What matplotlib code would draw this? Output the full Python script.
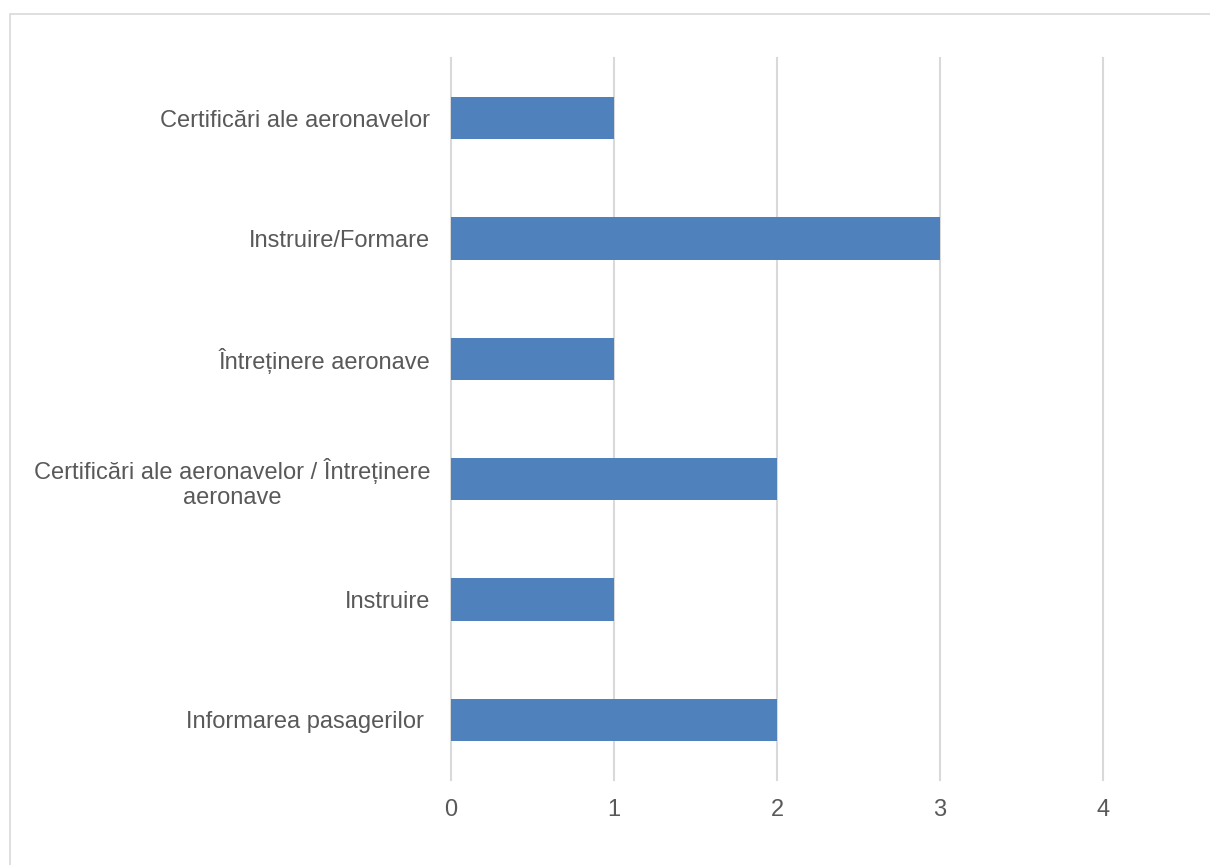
import matplotlib.pyplot as plt
from matplotlib.patches import Rectangle

plt.rcParams['font.family'] = ['Liberation Sans', 'DejaVu Sans']

categories = [
    "Certificări ale aeronavelor",
    "Instruire/Formare",
    "Întreținere aeronave",
    "Certificări ale aeronavelor / Întreținere\naeronave",
    "Instruire",
    "Informarea pasagerilor ",
]
values = [1, 3, 1, 2, 1, 2]
x_ticks = [0, 1, 2, 3, 4]

fig = plt.figure(figsize=(12.1, 8.65), dpi=100)
ax = fig.add_axes([451 / 1210, 85 / 865, 652 / 1210, 722 / 865])

# outer chart border
fig.patches.append(Rectangle((10 / 1210, -0.1), 1.2, 1.1 - 14 / 865,
                             transform=fig.transFigure, fill=False,
                             edgecolor='#D9D9D9', linewidth=1.2))

pos = list(range(len(categories)))
ax.barh(pos, values, height=0.35, color='#4F81BD', zorder=3)

ax.set_ylim(len(categories) - 0.5, -0.5)
ax.set_xlim(0, 4)
ax.set_xticks(x_ticks)
ax.set_yticks(pos)
ax.set_yticklabels(categories, multialignment='center', linespacing=1.2)

ax.xaxis.grid(True, color='#D9D9D9', linewidth=1.5, zorder=0)
ax.set_axisbelow(True)
for s in ax.spines.values():
    s.set_visible(False)
ax.tick_params(axis='both', length=0, labelsize=17, labelcolor='#595959')
ax.tick_params(axis='y', pad=15)
ax.tick_params(axis='x', pad=14)

# keep the edge gridlines (0 and 4) at full width
for gl in ax.get_xgridlines():
    gl.set_clip_on(False)

fig.savefig('out.png', dpi=100)
